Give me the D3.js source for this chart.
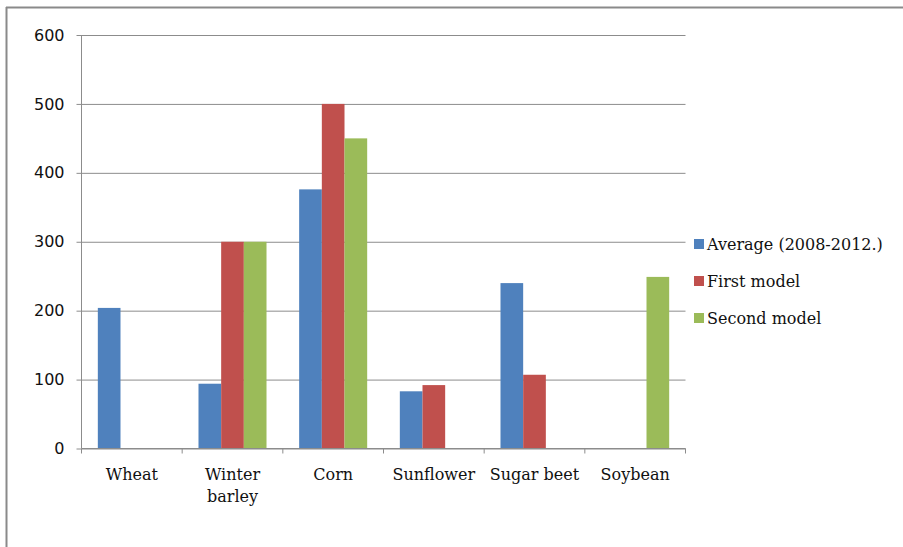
<!DOCTYPE html>
<html>
<head>
<meta charset="utf-8">
<script src="https://cdn.jsdelivr.net/npm/d3@7"></script>
<style>
  html, body { margin: 0; padding: 0; background: #fff; }
  svg { display: block; }
</style>
</head>
<body>
<svg id="chart" width="903" height="547"></svg>
<script>
// Crop categories (x axis), two-line labels where wrapped
const categories = ["Wheat", "Winter barley", "Corn", "Sunflower", "Sugar beet", "Soybean"];
const categoryLines = [["Wheat"], ["Winter", "barley"], ["Corn"], ["Sunflower"], ["Sugar beet"], ["Soybean"]];

// Series
const seriesNames = ["Average (2008-2012.)", "First model", "Second model"];
const averageValues = [204, 94, 376, 83, 240, 0];
const firstModelValues = [0, 300, 500, 92, 107, 0];
const secondModelValues = [0, 300, 450, 0, 0, 249];
const seriesColors = ["#4F81BD", "#C0504D", "#9BBB59"];

// Y axis ticks
const yTicks = [0, 100, 200, 300, 400, 500, 600];

const svg = d3.select("#chart");
const W = 903, H = 547;

// Outer frame
svg.append("line").attr("x1", 6).attr("x2", W).attr("y1", 7.5).attr("y2", 7.5)
  .attr("stroke", "#8a8a8a").attr("stroke-width", 2);
svg.append("line").attr("x1", 6.5).attr("x2", 6.5).attr("y1", 7).attr("y2", H)
  .attr("stroke", "#8a8a8a").attr("stroke-width", 2);

const plot = { left: 81.5, right: 685.5, top: 35, bottom: 448.5 };

const x = d3.scaleBand().domain(categories).range([plot.left, plot.right]).paddingInner(0).paddingOuter(0);
const y = d3.scaleLinear().domain([0, 600]).range([plot.bottom, plot.top]);
const xSub = d3.scaleBand().domain(seriesNames).range([0, x.bandwidth()]).paddingInner(0).paddingOuter(0.72);

const gridColor = "#8c8c8c";

// Horizontal gridlines with tick stubs to the left of the axis
const yAxis = d3.axisLeft(y).tickValues(yTicks).tickSize(5).tickPadding(12).tickFormat(d3.format("d"));
const gy = svg.append("g").attr("transform", `translate(${plot.left},0)`).call(yAxis);
gy.select(".domain").remove();
gy.selectAll(".tick line").attr("stroke", gridColor);
gy.selectAll(".tick").append("line")
  .attr("x1", 0).attr("x2", plot.right - plot.left)
  .attr("stroke", gridColor).attr("stroke-width", 1);
gy.selectAll(".tick text")
  .attr("font-family", "DejaVu Sans, Verdana, sans-serif")
  .attr("font-size", 16).attr("fill", "#111");

// Vertical axis line
svg.append("line").attr("x1", plot.left).attr("x2", plot.left)
  .attr("y1", plot.top).attr("y2", plot.bottom)
  .attr("stroke", gridColor);

// Bars
const seriesValues = [averageValues, firstModelValues, secondModelValues];
seriesNames.forEach((name, si) => {
  svg.append("g").selectAll("rect")
    .data(categories.map((c, i) => ({ c, v: seriesValues[si][i] })).filter(d => d.v > 0))
    .join("rect")
    .attr("x", d => x(d.c) + xSub(name))
    .attr("width", xSub.bandwidth())
    .attr("y", d => y(d.v))
    .attr("height", d => y(0) - y(d.v))
    .attr("fill", seriesColors[si]);
});

// X axis: baseline, boundary ticks and labels
svg.append("line").attr("x1", plot.left).attr("x2", plot.right)
  .attr("y1", plot.bottom).attr("y2", plot.bottom)
  .attr("stroke", gridColor);
const boundaries = categories.map(c => x(c)).concat([plot.right]);
svg.append("g").selectAll("line").data(boundaries).join("line")
  .attr("x1", d => d).attr("x2", d => d)
  .attr("y1", plot.bottom).attr("y2", plot.bottom + 5)
  .attr("stroke", gridColor);

const xl = svg.append("g").selectAll("text").data(categories).join("text")
  .attr("x", d => x(d) + x.bandwidth() / 2)
  .attr("y", 480)
  .attr("text-anchor", "middle")
  .attr("font-family", "DejaVu Serif, Liberation Serif, serif")
  .attr("font-size", 16).attr("fill", "#111");
xl.each(function (d, i) {
  d3.select(this).selectAll("tspan").data(categoryLines[i]).join("tspan")
    .attr("x", x(d) + x.bandwidth() / 2)
    .attr("dy", (t, j) => j === 0 ? 0 : 22)
    .text(t => t);
});

// Legend
const legend = svg.append("g").attr("transform", "translate(694,239)");
seriesNames.forEach((name, i) => {
  const row = legend.append("g").attr("transform", `translate(0,${i * 37})`);
  row.append("rect").attr("width", 10).attr("height", 10).attr("fill", seriesColors[i]);
  row.append("text").attr("x", 13).attr("y", 11)
    .attr("font-family", "DejaVu Serif, Liberation Serif, serif")
    .attr("font-size", 16).attr("fill", "#111")
    .text(name);
});
</script>
</body>
</html>
